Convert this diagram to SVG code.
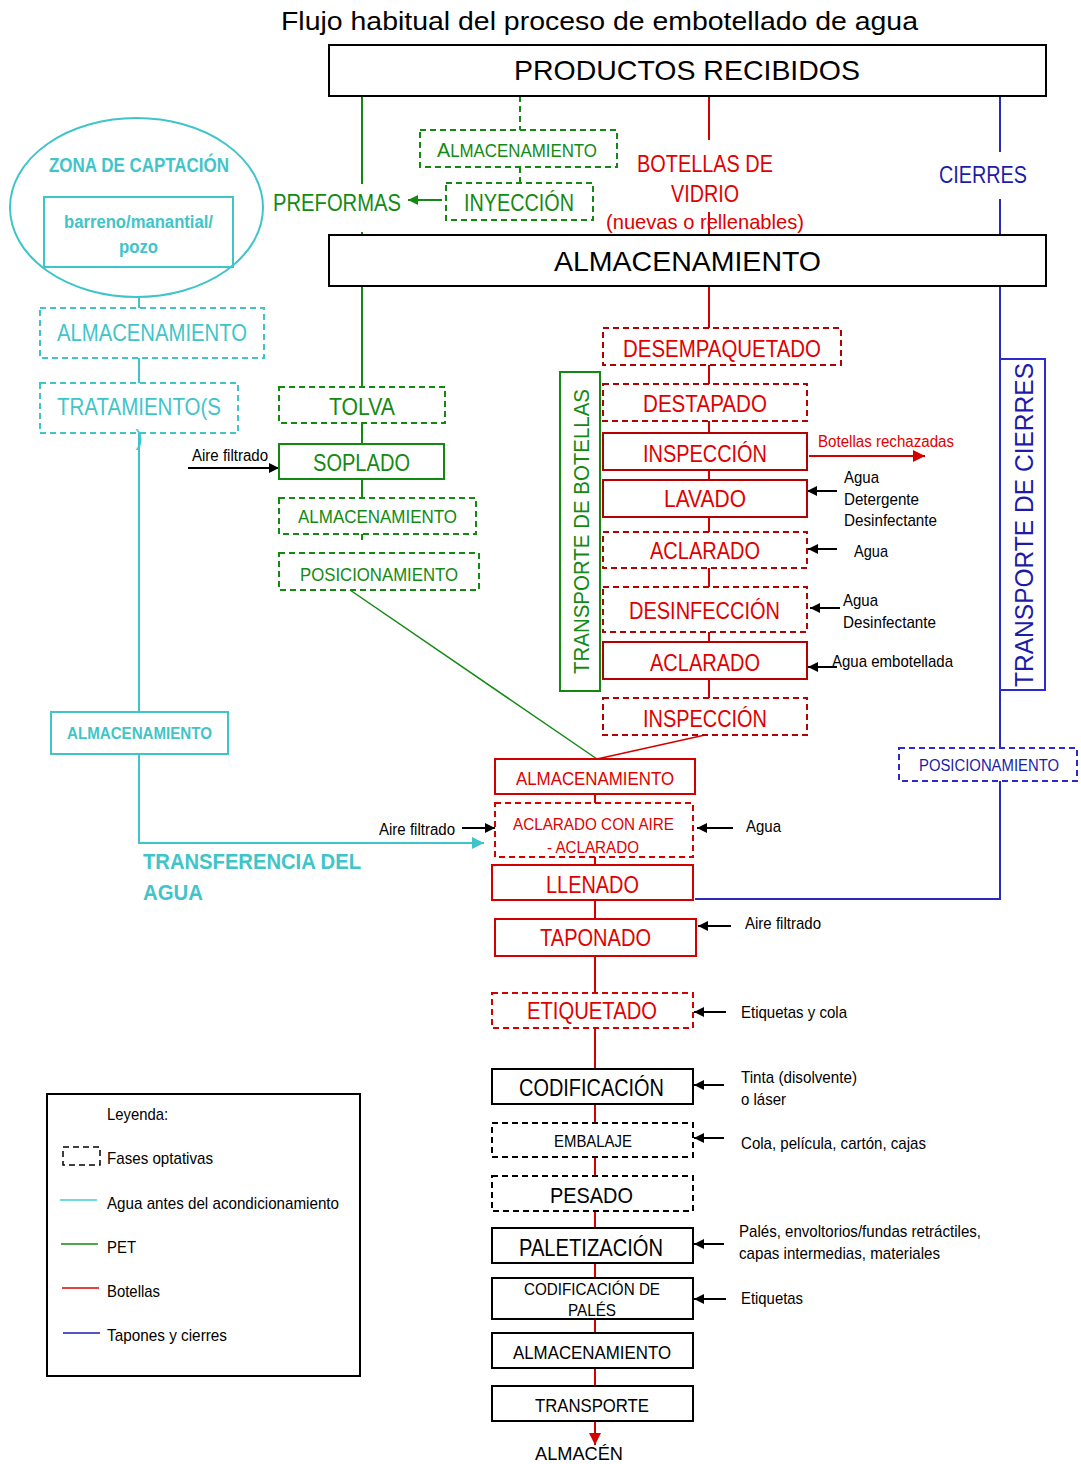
<svg xmlns="http://www.w3.org/2000/svg" width="1081" height="1464" viewBox="0 0 1081 1464">
<style>
text{font-family:"Liberation Sans",Arial,sans-serif;}
.c{text-anchor:middle;}
.bk{fill:#000;}
.tl{fill:#3fc5c9;}
.gr{fill:#138a13;}
.rd{fill:#e00000;}
.bl{fill:#1c1ca8;}
.b{font-weight:bold;}
.box{fill:none;stroke-width:2;}
.d{stroke-dasharray:6 4;}
.sk{stroke:#000;}
.st{stroke:#3fc5c9;}
.sg{stroke:#128a12;}
.sr{stroke:#d40000;}
.sr2{stroke:#b40000;}
.sb{stroke:#2a2ad0;}
.ln{fill:none;stroke-width:2;}
</style>
<defs>
<marker id="ak" viewBox="0 0 10 10" refX="10" refY="5" markerWidth="11" markerHeight="10" markerUnits="userSpaceOnUse" orient="auto"><path d="M0,0L10,5L0,10z" fill="#000"/></marker>
<marker id="ag" viewBox="0 0 10 10" refX="10" refY="5" markerWidth="12" markerHeight="10" markerUnits="userSpaceOnUse" orient="auto"><path d="M0,0L10,5L0,10z" fill="#128a12"/></marker>
<marker id="ar" viewBox="0 0 10 10" refX="10" refY="5" markerWidth="14" markerHeight="12" markerUnits="userSpaceOnUse" orient="auto"><path d="M0,0L10,5L0,10z" fill="#d40000"/></marker>
<marker id="at" viewBox="0 0 10 10" refX="10" refY="5" markerWidth="12" markerHeight="12" markerUnits="userSpaceOnUse" orient="auto"><path d="M0,0L10,5L0,10z" fill="#3fc5c9"/></marker>
</defs>
<rect width="1081" height="1464" fill="#fff"/>
<text class="c bk" x="599.5" y="30" font-size="26" textLength="637" lengthAdjust="spacingAndGlyphs">Flujo habitual del proceso de embotellado de agua</text>

<g id="connectors">
<path class="ln st" d="M139,297V308M139,358V383M139,433V712M139,754V843H484" marker-end="url(#at)"/>
<path class="ln sg" d="M362,96V184M362,232V235M362,286V387M362,423V444M362,479V498M362,534V540"/>
<path class="ln sg d" d="M520,96V130M520,167V183"/>
<line class="ln sg" x1="442" y1="200" x2="408" y2="200" marker-end="url(#ag)"/>
<line class="sg" stroke-width="1.5" x1="350" y1="590" x2="597" y2="759"/>
<path class="ln sr" d="M709,96V140M709,212V235M709,286V328M709,365V384M709,421V433M709,470V480M709,517V532M709,568V587M709,632V642M709,679V698"/>
<line class="sr" stroke-width="1.5" x1="705" y1="735" x2="597" y2="759"/>
<path class="ln sr" d="M595,794V803M595,857V865M595,900V919M595,956V993M595,1028V1069M595,1104V1123M595,1157V1176M595,1211V1228M595,1263V1278M595,1319V1333M595,1368V1386"/>
<line class="ln sr" x1="595" y1="1421" x2="595" y2="1445" marker-end="url(#ar)"/>
<line class="ln sr" x1="809" y1="456" x2="925" y2="456" marker-end="url(#ar)"/>
<path class="ln" stroke="#2a2ab8" d="M1000,96V152M1000,199V235M1000,286V359M1000,690V748M1000,781V899H695"/>
<g class="ln sk" marker-end="url(#ak)">
<line x1="188" y1="468" x2="279" y2="468"/>
<line x1="462" y1="828" x2="495" y2="828"/>
<line x1="837" y1="491" x2="807" y2="491"/>
<line x1="837" y1="549" x2="808" y2="549"/>
<line x1="840" y1="608" x2="810" y2="608"/>
<line x1="837" y1="667" x2="808" y2="667"/>
<line x1="733" y1="828" x2="697" y2="828"/>
<line x1="731" y1="926" x2="698" y2="926"/>
<line x1="726" y1="1012" x2="694" y2="1012"/>
<line x1="724" y1="1085" x2="694" y2="1085"/>
<line x1="724" y1="1138" x2="694" y2="1138"/>
<line x1="724" y1="1244" x2="694" y2="1244"/>
<line x1="726" y1="1299" x2="694" y2="1299"/>
</g>
</g>

<g id="productos-recibidos"><rect class="box sk" x="329" y="45" width="717" height="51"/><text class="c bk" x="687" y="80" font-size="28" textLength="346" lengthAdjust="spacingAndGlyphs">PRODUCTOS RECIBIDOS</text></g>
<g id="almacenamiento-general"><rect class="box sk" x="329" y="235" width="717" height="51"/><text class="c bk" x="687.5" y="271" font-size="28" textLength="267" lengthAdjust="spacingAndGlyphs">ALMACENAMIENTO</text></g>

<g id="almacenamiento-preformas"><rect class="box sg d" x="420" y="130" width="197" height="37"/><text class="gr" x="437" y="157" textLength="160" lengthAdjust="spacingAndGlyphs"><tspan font-size="21">A</tspan><tspan font-size="18">LMACENAMIENTO</tspan></text></g>
<g id="inyeccion"><rect class="box sg d" x="446" y="183" width="147" height="37"/><text class="c gr" x="519" y="211" font-size="23" textLength="110" lengthAdjust="spacingAndGlyphs">INYECCIÓN</text></g>
<g id="preformas"><text class="c gr" x="337" y="211" font-size="23" textLength="128" lengthAdjust="spacingAndGlyphs">PREFORMAS</text></g>
<g id="botellas-vidrio"><text class="c rd" x="705" y="172" font-size="23" textLength="136" lengthAdjust="spacingAndGlyphs">BOTELLAS DE</text><text class="c rd" x="705" y="202" font-size="23" textLength="68" lengthAdjust="spacingAndGlyphs">VIDRIO</text><text class="c rd" x="705" y="229" font-size="21" textLength="198" lengthAdjust="spacingAndGlyphs">(nuevas o rellenables)</text></g>
<g id="cierres"><text class="c bl" x="983" y="183" font-size="23" textLength="88" lengthAdjust="spacingAndGlyphs">CIERRES</text></g>

<g id="zona-captacion"><ellipse class="box st" cx="136.5" cy="207.5" rx="126.5" ry="89.5"/><text class="c tl b" x="139" y="172" font-size="20" textLength="180" lengthAdjust="spacingAndGlyphs">ZONA DE CAPTACIÓN</text><rect class="box st" x="44" y="197" width="189" height="70"/><text class="c tl b" x="138.5" y="228" font-size="18" textLength="149" lengthAdjust="spacingAndGlyphs">barreno/manantial/</text><text class="c tl b" x="138.5" y="253" font-size="18" textLength="39" lengthAdjust="spacingAndGlyphs">pozo</text></g>
<g id="almacenamiento-agua1"><rect class="box st d" x="40" y="308" width="224" height="50"/><text class="c tl" x="152" y="341" font-size="24" textLength="190" lengthAdjust="spacingAndGlyphs">ALMACENAMIENTO</text></g>
<g id="tratamientos"><rect class="box st d" x="40" y="383" width="198" height="50"/><text class="c tl" x="139" y="415" font-size="24" textLength="164" lengthAdjust="spacingAndGlyphs">TRATAMIENTO(S</text><text class="c tl" x="139" y="445" font-size="22">)</text></g>
<g id="almacenamiento-agua2"><rect class="box st" x="51" y="712" width="177" height="42"/><text class="c tl b" x="139.5" y="739" font-size="17" textLength="145" lengthAdjust="spacingAndGlyphs">ALMACENAMIENTO</text></g>
<g id="transferencia-agua"><text class="c tl b" x="252" y="869" font-size="22" textLength="218" lengthAdjust="spacingAndGlyphs">TRANSFERENCIA DEL</text><text class="c tl b" x="173" y="900" font-size="22" textLength="60" lengthAdjust="spacingAndGlyphs">AGUA</text></g>

<g id="tolva"><rect class="box sg d" x="279" y="387" width="166" height="36"/><text class="c gr" x="362" y="415" font-size="24" textLength="66" lengthAdjust="spacingAndGlyphs">TOLVA</text></g>
<g id="soplado"><rect class="box sg" x="279" y="444" width="165" height="35"/><text class="c gr" x="361.5" y="471" font-size="24" textLength="97" lengthAdjust="spacingAndGlyphs">SOPLADO</text><text class="c bk" x="230" y="461" font-size="16" textLength="76" lengthAdjust="spacingAndGlyphs">Aire filtrado</text></g>
<g id="almacenamiento-pet"><rect class="box sg d" x="279" y="498" width="197" height="36"/><text class="c gr" x="377.5" y="523" font-size="19" textLength="159" lengthAdjust="spacingAndGlyphs">ALMACENAMIENTO</text></g>
<g id="posicionamiento-pet"><rect class="box sg d" x="279" y="553" width="200" height="37"/><text class="c gr" x="379" y="581" font-size="19" textLength="158" lengthAdjust="spacingAndGlyphs">POSICIONAMIENTO</text></g>

<g id="transporte-botellas"><rect class="box sg" x="560" y="372" width="40" height="319"/><text class="c gr" transform="translate(589,531.5) rotate(-90)" font-size="22" textLength="285" lengthAdjust="spacingAndGlyphs">TRANSPORTE DE BOTELLAS</text></g>
<g id="transporte-cierres"><rect class="box sb" x="1000" y="359" width="45" height="331"/><text class="c bl" transform="translate(1033,525) rotate(-90)" font-size="26" textLength="324" lengthAdjust="spacingAndGlyphs">TRANSPORTE DE CIERRES</text></g>

<g id="desempaquetado"><rect class="box sr2 d" x="603" y="328" width="238" height="37"/><text class="c rd" x="722" y="357" font-size="24" textLength="198" lengthAdjust="spacingAndGlyphs">DESEMPAQUETADO</text></g>
<g id="destapado"><rect class="box sr2 d" x="603" y="384" width="204" height="37"/><text class="c rd" x="705" y="412" font-size="24" textLength="124" lengthAdjust="spacingAndGlyphs">DESTAPADO</text></g>
<g id="inspeccion1"><rect class="box sr2" x="603" y="433" width="204" height="37"/><text class="c rd" x="705" y="462" font-size="24" textLength="124" lengthAdjust="spacingAndGlyphs">INSPECCIÓN</text><text class="c rd" x="886" y="447" font-size="16" textLength="136" lengthAdjust="spacingAndGlyphs">Botellas rechazadas</text></g>
<g id="lavado"><rect class="box sr2" x="603" y="480" width="204" height="37"/><text class="c rd" x="705" y="507" font-size="24" textLength="82" lengthAdjust="spacingAndGlyphs">LAVADO</text><text class="bk" x="844" y="483" font-size="17" textLength="35" lengthAdjust="spacingAndGlyphs">Agua</text><text class="bk" x="844" y="505" font-size="17" textLength="75" lengthAdjust="spacingAndGlyphs">Detergente</text><text class="bk" x="844" y="526" font-size="17" textLength="93" lengthAdjust="spacingAndGlyphs">Desinfectante</text></g>
<g id="aclarado1"><rect class="box sr2 d" x="603" y="532" width="204" height="36"/><text class="c rd" x="705" y="559" font-size="24" textLength="110" lengthAdjust="spacingAndGlyphs">ACLARADO</text><text class="bk" x="854" y="557" font-size="17" textLength="34" lengthAdjust="spacingAndGlyphs">Agua</text></g>
<g id="desinfeccion"><rect class="box sr2 d" x="603" y="587" width="204" height="45"/><text class="c rd" x="704.5" y="619" font-size="24" textLength="151" lengthAdjust="spacingAndGlyphs">DESINFECCIÓN</text><text class="bk" x="843" y="606" font-size="17" textLength="35" lengthAdjust="spacingAndGlyphs">Agua</text><text class="bk" x="843" y="628" font-size="17" textLength="93" lengthAdjust="spacingAndGlyphs">Desinfectante</text></g>
<g id="aclarado2"><rect class="box sr2" x="603" y="642" width="204" height="37"/><text class="c rd" x="705" y="671" font-size="24" textLength="110" lengthAdjust="spacingAndGlyphs">ACLARADO</text><text class="bk" x="832" y="667" font-size="17" textLength="121" lengthAdjust="spacingAndGlyphs">Agua embotellada</text></g>
<g id="inspeccion2"><rect class="box sr2 d" x="603" y="698" width="204" height="37"/><text class="c rd" x="705" y="727" font-size="24" textLength="124" lengthAdjust="spacingAndGlyphs">INSPECCIÓN</text></g>

<g id="posicionamiento-cierres"><rect class="box sb d" x="899" y="748" width="178" height="33"/><text class="c bl" x="989" y="771" font-size="16" textLength="140" lengthAdjust="spacingAndGlyphs">POSICIONAMIENTO</text></g>

<g id="almacenamiento-botellas"><rect class="box sr" x="495" y="759" width="200" height="35"/><text class="c rd" x="595" y="785" font-size="19" textLength="158" lengthAdjust="spacingAndGlyphs">ALMACENAMIENTO</text></g>
<g id="aclarado-aire"><rect class="box sr d" x="495" y="803" width="198" height="54"/><text class="c rd" x="593.5" y="830" font-size="17" textLength="161" lengthAdjust="spacingAndGlyphs">ACLARADO CON AIRE</text><text class="c rd" x="593" y="853" font-size="17" textLength="92" lengthAdjust="spacingAndGlyphs">- ACLARADO</text><text class="c bk" x="417" y="835" font-size="16" textLength="76" lengthAdjust="spacingAndGlyphs">Aire filtrado</text><text class="bk" x="746" y="832" font-size="17" textLength="35" lengthAdjust="spacingAndGlyphs">Agua</text></g>
<g id="llenado"><rect class="box sr" x="492" y="865" width="201" height="35"/><text class="c rd" x="592.5" y="893" font-size="24" textLength="93" lengthAdjust="spacingAndGlyphs">LLENADO</text></g>
<g id="taponado"><rect class="box sr" x="495" y="919" width="201" height="37"/><text class="c rd" x="595.5" y="946" font-size="24" textLength="111" lengthAdjust="spacingAndGlyphs">TAPONADO</text><text class="bk" x="745" y="929" font-size="17" textLength="76" lengthAdjust="spacingAndGlyphs">Aire filtrado</text></g>
<g id="etiquetado"><rect class="box sr d" x="492" y="993" width="201" height="35"/><text class="c rd" x="592" y="1019" font-size="24" textLength="130" lengthAdjust="spacingAndGlyphs">ETIQUETADO</text><text class="bk" x="741" y="1018" font-size="17" textLength="106" lengthAdjust="spacingAndGlyphs">Etiquetas y cola</text></g>
<g id="codificacion"><rect class="box sk" x="492" y="1069" width="201" height="35"/><text class="c bk" x="591.5" y="1096" font-size="24" textLength="145" lengthAdjust="spacingAndGlyphs">CODIFICACIÓN</text><text class="bk" x="741" y="1083" font-size="17" textLength="116" lengthAdjust="spacingAndGlyphs">Tinta (disolvente)</text><text class="bk" x="741" y="1105" font-size="17" textLength="45" lengthAdjust="spacingAndGlyphs">o láser</text></g>
<g id="embalaje"><rect class="box sk d" x="492" y="1123" width="201" height="34"/><text class="c bk" x="593" y="1147" font-size="17" textLength="78" lengthAdjust="spacingAndGlyphs">EMBALAJE</text><text class="bk" x="741" y="1149" font-size="17" textLength="185" lengthAdjust="spacingAndGlyphs">Cola, película, cartón, cajas</text></g>
<g id="pesado"><rect class="box sk d" x="492" y="1176" width="201" height="35"/><text class="c bk" x="591.5" y="1203" font-size="22" textLength="83" lengthAdjust="spacingAndGlyphs">PESADO</text></g>
<g id="paletizacion"><rect class="box sk" x="492" y="1228" width="201" height="35"/><text class="c bk" x="591" y="1256" font-size="24" textLength="144" lengthAdjust="spacingAndGlyphs">PALETIZACIÓN</text><text class="bk" x="739" y="1237" font-size="17" textLength="242" lengthAdjust="spacingAndGlyphs">Palés, envoltorios/fundas retráctiles,</text><text class="bk" x="739" y="1259" font-size="17" textLength="201" lengthAdjust="spacingAndGlyphs">capas intermedias, materiales</text></g>
<g id="codificacion-pales"><rect class="box sk" x="492" y="1278" width="201" height="41"/><text class="c bk" x="592" y="1295" font-size="17" textLength="136" lengthAdjust="spacingAndGlyphs">CODIFICACIÓN DE</text><text class="c bk" x="592" y="1316" font-size="17" textLength="48" lengthAdjust="spacingAndGlyphs">PALÉS</text><text class="bk" x="741" y="1304" font-size="17" textLength="62" lengthAdjust="spacingAndGlyphs">Etiquetas</text></g>
<g id="almacenamiento-final"><rect class="box sk" x="492" y="1333" width="201" height="35"/><text class="c bk" x="592" y="1359" font-size="19" textLength="158" lengthAdjust="spacingAndGlyphs">ALMACENAMIENTO</text></g>
<g id="transporte"><rect class="box sk" x="492" y="1386" width="201" height="35"/><text class="c bk" x="592" y="1412" font-size="19" textLength="114" lengthAdjust="spacingAndGlyphs">TRANSPORTE</text></g>
<g id="almacen"><text class="c bk" x="579" y="1460" font-size="19" textLength="88" lengthAdjust="spacingAndGlyphs">ALMACÉN</text></g>

<g id="leyenda">
<rect class="box sk" x="47" y="1094" width="313" height="282"/>
<text class="bk" x="107" y="1120" font-size="17" textLength="61" lengthAdjust="spacingAndGlyphs">Leyenda:</text>
<rect class="sk d" fill="none" stroke-width="1.5" x="63" y="1147" width="37" height="18" stroke-dasharray="5 3"/>
<text class="bk" x="107" y="1164" font-size="17" textLength="106" lengthAdjust="spacingAndGlyphs">Fases optativas</text>
<line stroke="#3fd0d8" stroke-width="1.5" x1="60" y1="1200" x2="97" y2="1200"/>
<text class="bk" x="107" y="1209" font-size="17" textLength="232" lengthAdjust="spacingAndGlyphs">Agua antes del acondicionamiento</text>
<line stroke="#128a12" stroke-width="1.5" x1="61" y1="1244" x2="98" y2="1244"/>
<text class="bk" x="107" y="1253" font-size="17" textLength="29" lengthAdjust="spacingAndGlyphs">PET</text>
<line stroke="#e00000" stroke-width="1.5" x1="62" y1="1288" x2="99" y2="1288"/>
<text class="bk" x="107" y="1297" font-size="17" textLength="53" lengthAdjust="spacingAndGlyphs">Botellas</text>
<line stroke="#1c1ca8" stroke-width="1.5" x1="63" y1="1333" x2="100" y2="1333"/>
<text class="bk" x="107" y="1341" font-size="17" textLength="120" lengthAdjust="spacingAndGlyphs">Tapones y cierres</text>
</g>
</svg>
